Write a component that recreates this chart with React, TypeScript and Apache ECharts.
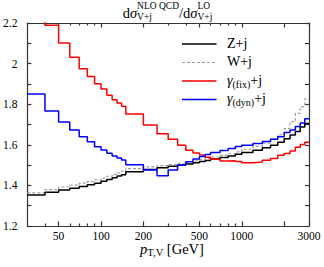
import React, { useEffect, useRef } from "react";
import * as echarts from "echarts";

// ---------- data ----------
const binEdges = [
  30, 40, 50, 60, 70, 80, 90, 100, 110, 120, 130, 140, 150,
  200, 250, 300, 350, 400, 450, 500, 550, 600,
  700, 800, 900, 1000,
  1200, 1400, 1600, 1800, 2000, 2200, 2400, 2600, 2800, 3000,
];

const zJet = [
  1.353, 1.366, 1.377, 1.386, 1.395, 1.403, 1.411, 1.42, 1.429, 1.438, 1.446, 1.453,
  1.467, 1.478, 1.487, 1.494, 1.5, 1.506, 1.512, 1.518, 1.523,
  1.53, 1.538, 1.545, 1.553,
  1.562, 1.573, 1.585, 1.598, 1.612, 1.63, 1.648, 1.665, 1.688, 1.705,
];

const wJet = [
  1.363, 1.379, 1.392, 1.401, 1.411, 1.419, 1.427, 1.436, 1.445, 1.454, 1.462, 1.47,
  1.483, 1.491, 1.497, 1.503, 1.509, 1.515, 1.521, 1.527, 1.532,
  1.54, 1.548, 1.556, 1.565,
  1.578, 1.592, 1.608, 1.628, 1.65, 1.68, 1.714, 1.755, 1.788, 1.826,
];

const gammaFix = [
  2.4, 2.189, 2.101, 2.031, 1.975, 1.937, 1.901, 1.875, 1.844, 1.822, 1.806, 1.79,
  1.752, 1.698, 1.655, 1.627, 1.598, 1.573, 1.559, 1.55, 1.539,
  1.529, 1.52, 1.522, 1.518,
  1.512, 1.515, 1.524, 1.533, 1.548, 1.557, 1.57, 1.588, 1.602, 1.612,
];

const gammaDyn = [
  1.85, 1.767, 1.712, 1.673, 1.64, 1.615, 1.591, 1.574, 1.558, 1.545, 1.535, 1.525,
  1.502, 1.476, 1.447, 1.476, 1.499, 1.517, 1.53, 1.542, 1.552,
  1.562, 1.572, 1.582, 1.592,
  1.598, 1.606, 1.616, 1.627, 1.64, 1.66, 1.673, 1.69, 1.708, 1.728,
];

const xRange = [30, 3000];
const xTickLabels = [50, 100, 200, 500, 1000, 3000];
const xMajorTicks = [50, 100, 200, 500, 1000, 2000, 3000];
const xMinorTicks = [40, 60, 70, 80, 90, 300, 400, 600, 700, 800, 900];
const yRange = [1.2, 2.2];
const yLabelStep = 0.2;

// ---------- helpers ----------
const FONT = '"Liberation Serif", "Times New Roman", serif';
const L = (v: number) => Math.log10(v);

function stepData(vals: number[]) {
  const pts = vals.map((v, i) => [L(binEdges[i]), v]);
  pts.push([L(binEdges[binEdges.length - 1]), vals[vals.length - 1]]);
  return pts;
}

let measureCtx: CanvasRenderingContext2D | null = null;
function textWidth(t: string, s: number, it?: boolean) {
  if (!measureCtx) measureCtx = document.createElement("canvas").getContext("2d");
  measureCtx!.font = `${it ? "italic " : ""}${s}px ${FONT}`;
  return measureCtx!.measureText(t).width;
}

type Piece = { t: string; s: number; dy?: number; it?: boolean };
function richLine(groups: Piece[][], cx: number | null, x0: number, base: number) {
  const widths = groups.map((g) => Math.max(...g.map((p) => textWidth(p.t, p.s, p.it))));
  const total = widths.reduce((a, b) => a + b, 0);
  let x = cx != null ? cx - total / 2 : x0;
  const els: any[] = [];
  groups.forEach((g, i) => {
    g.forEach((p) =>
      els.push({
        type: "text",
        x,
        y: base + (p.dy || 0) - 0.34 * p.s,
        silent: true,
        style: {
          text: p.t,
          fontSize: p.s,
          fontFamily: FONT,
          fontStyle: p.it ? "italic" : "normal",
          fill: "#000",
          align: "left",
          verticalAlign: "middle",
        },
      })
    );
    x += widths[i];
  });
  return els;
}

export default function App() {
  const ref = useRef<HTMLDivElement>(null);

  useEffect(() => {
    document.body.style.margin = "0";
    const chart = echarts.init(ref.current!, undefined, { renderer: "svg" });

    const frame = { color: "#333", width: 1.2 };
    const xBase = {
      type: "value",
      min: L(xRange[0]),
      max: L(xRange[1]),
      splitLine: { show: false },
    };
    const majorTick = {
      show: true,
      inside: true,
      length: 4.5,
      customValues: xMajorTicks.map(L),
      lineStyle: frame,
    };
    const minorTick = {
      show: true,
      inside: true,
      length: 2.5,
      customValues: xMinorTicks.map(L),
      lineStyle: frame,
    };

    const seriesDefs = [
      { name: "W+j", data: wJet, color: "#a0a0a0", width: 1.2, dash: [3, 2] as any },
      { name: "Z+j", data: zJet, color: "#000", width: 1.5, dash: "solid" as any },
      { name: "γ(fix)+j", data: gammaFix, color: "#ff0000", width: 1.5, dash: "solid" as any },
      { name: "γ(dyn)+j", data: gammaDyn, color: "#0000ff", width: 1.5, dash: "solid" as any },
    ];

    // legend (drawn as graphic elements)
    const legendRows = [
      { color: "#000", width: 1.5, dash: null, y: 44, label: [[{ t: "Z+j", s: 14 }]] },
      { color: "#a0a0a0", width: 1.2, dash: [3, 2], y: 62.5, label: [[{ t: "W+j", s: 14 }]] },
      {
        color: "#ff0000", width: 1.5, dash: null, y: 81,
        label: [[{ t: "γ", s: 14, it: true }], [{ t: "(fix)", s: 10, dy: 2.5 }], [{ t: "+j", s: 14 }]],
      },
      {
        color: "#0000ff", width: 1.5, dash: null, y: 99.5,
        label: [[{ t: "γ", s: 14, it: true }], [{ t: "(dyn)", s: 10, dy: 2.5 }], [{ t: "+j", s: 14 }]],
      },
    ];
    const graphics: any[] = [];
    legendRows.forEach((r) => {
      graphics.push({
        type: "line",
        silent: true,
        shape: { x1: 182, y1: r.y, x2: 216.5, y2: r.y },
        style: { stroke: r.color, lineWidth: r.width, lineDash: r.dash || undefined },
      });
      graphics.push(...richLine(r.label as Piece[][], null, 227, r.y + 4));
    });

    // title
    graphics.push(
      ...richLine(
        [
          [{ t: "d", s: 14.5 }],
          [{ t: "σ", s: 14.5, it: true }],
          [
            { t: "NLO QCD", s: 9.5, dy: -8.5 },
            { t: "V+j", s: 9.5, dy: 3 },
          ],
          [{ t: "/d", s: 14.5 }],
          [{ t: "σ", s: 14.5, it: true }],
          [
            { t: "LO", s: 9.5, dy: -8.5 },
            { t: "V+j", s: 9.5, dy: 3 },
          ],
        ],
        167.5,
        0,
        17.5
      )
    );

    // x-axis name
    graphics.push(
      ...richLine(
        [
          [{ t: "p", s: 14.5, it: true }],
          [{ t: "T,V", s: 10.5, dy: 2.5 }],
          [{ t: " [GeV]", s: 14.5 }],
        ],
        172,
        0,
        254
      )
    );

    const option: any = {
      animation: false,
      grid: { left: 26, right: 15, top: 23, bottom: 41, containLabel: false },
      xAxis: [
        {
          ...xBase,
          position: "bottom",
          axisLine: { show: true, onZero: false, lineStyle: frame },
          axisTick: majorTick,
          axisLabel: {
            show: true,
            customValues: xTickLabels.map(L),
            formatter: (v: number) => String(Math.round(Math.pow(10, v))),
            margin: 4,
            fontSize: 11.5,
            fontFamily: FONT,
            color: "#000",
          },
        },
        {
          ...xBase,
          position: "bottom",
          axisLine: { show: false, onZero: false },
          axisTick: minorTick,
          axisLabel: { show: false },
        },
        {
          ...xBase,
          position: "top",
          axisLine: { show: true, onZero: false, lineStyle: frame },
          axisTick: majorTick,
          axisLabel: { show: false },
        },
        {
          ...xBase,
          position: "top",
          axisLine: { show: false, onZero: false },
          axisTick: minorTick,
          axisLabel: { show: false },
        },
      ],
      yAxis: [0, 1].map((i) => ({
        type: "value",
        min: yRange[0],
        max: yRange[1],
        interval: yLabelStep,
        position: i === 0 ? "left" : "right",
        axisLine: { show: true, onZero: false, lineStyle: frame },
        axisTick: { show: true, inside: true, length: 4, lineStyle: frame },
        minorTick: { show: true, splitNumber: 2, length: 4, lineStyle: frame },
        splitLine: { show: false },
        minorSplitLine: { show: false },
        axisLabel: {
          show: i === 0,
          margin: 10,
          fontSize: 11.5,
          fontFamily: FONT,
          color: "#000",
          formatter: (v: number) => String(+v.toFixed(1)),
        },
      })),
      series: seriesDefs.map((d, i) => ({
        type: "line",
        name: d.name,
        step: "end",
        xAxisIndex: 0,
        yAxisIndex: 0,
        data: stepData(d.data),
        symbol: "none",
        showSymbol: false,
        clip: true,
        silent: true,
        z: 2 + i,
        lineStyle: { color: d.color, width: d.width, type: d.dash },
      })),
      graphic: graphics,
    };

    chart.setOption(option);
    return () => chart.dispose();
  }, []);

  return <div ref={ref} style={{ width: 324, height: 267 }} />;
}
